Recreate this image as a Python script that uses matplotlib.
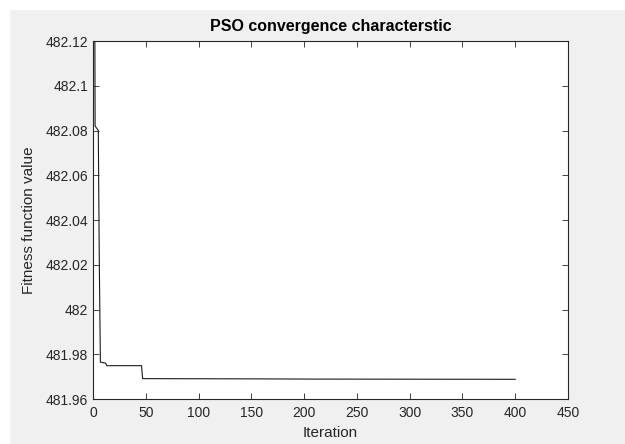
import numpy as np
import matplotlib.pyplot as plt
from matplotlib.patches import Rectangle

plt.rcParams['font.family'] = ['Liberation Sans', 'DejaVu Sans']

# convergence curve, key points (iteration, best fitness)
iteration = [1, 2, 5, 6, 7, 12, 13, 46, 47, 150, 210, 400]
fitness = [482.25, 482.082, 482.080, 482.02, 481.9765, 481.976, 481.9749,
           481.9749, 481.9691, 481.9690, 481.9689, 481.9688]

xticks = [0, 50, 100, 150, 200, 250, 300, 350, 400, 450]
yticks = [481.96, 481.98, 482, 482.02, 482.04, 482.06, 482.08, 482.1, 482.12]
ytick_labels = ['481.96', '481.98', '482', '482.02', '482.04', '482.06',
                '482.08', '482.1', '482.12']

fig = plt.figure(figsize=(6.25, 4.44), dpi=100, facecolor='white')
fig.add_artist(Rectangle((10 / 625, 0), 1, (444 - 10) / 444,
                         transform=fig.transFigure, facecolor='#f0f0f0',
                         edgecolor='none', zorder=-10))

ax = fig.add_axes([93 / 625, 1 - 399 / 444, (568 - 93) / 625, (399 - 41) / 444])
ax.plot(iteration, fitness, color='#1a1a1a', linewidth=0.8)

ax.set_xlim(0, 450)
ax.set_ylim(481.96, 482.12)
ax.set_xticks(xticks)
ax.set_yticks(yticks)
ax.set_yticklabels(ytick_labels)

c = '#262626'
for s in ax.spines.values():
    s.set_color(c)
    s.set_linewidth(0.8)
ax.tick_params(direction='in', length=4, width=0.6, colors=c, labelsize=10,
               top=True, right=True, labelcolor=c)
ax.tick_params(axis='x', pad=5)

ax.set_title('PSO convergence characterstic', fontsize=11.5, fontweight='bold',
             color='black', pad=7)
ax.set_xlabel('Iteration', fontsize=11, color=c, labelpad=4)
ax.set_ylabel('Fitness function value', fontsize=11, color=c, labelpad=7)

fig.savefig('out.png', dpi=100, facecolor=fig.get_facecolor())
